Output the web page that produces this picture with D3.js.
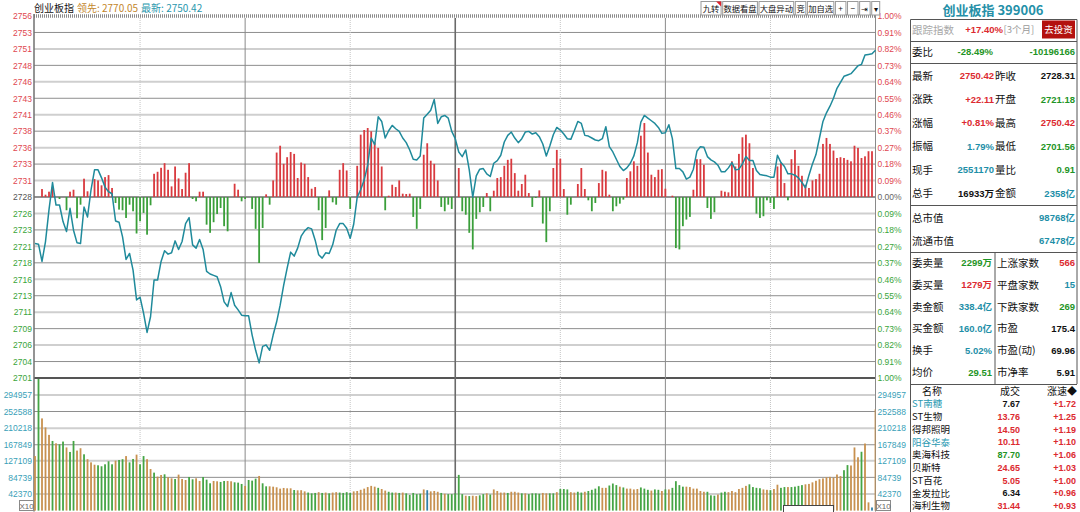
<!DOCTYPE html>
<html>
<head>
<meta charset="utf-8">
<script src="https://cdn.jsdelivr.net/npm/d3@7"></script>
<style>
  body { margin: 0; background: #fff; }
  #chart svg { display: block; }
</style>
</head>
<body>
<div id="chart"></div>
<script>
// ---- data ----
const prevClose = 2728.31;
const limitPct = 1.00;

// one price per minute, 09:30 .. 15:00 (241 points)
const priceSeries = [
  2721.3, 2721.2, 2718.6, 2721.6, 2726.4, 2730.5, 2727.1, 2727.1, 2724.6, 2723.1,
  2726.6, 2723.3, 2721.4, 2721.3, 2726.8, 2725.3, 2729.4, 2732.4, 2732.4, 2731.2,
  2729.8, 2729.1, 2728.8, 2724.7, 2724.5, 2722.3, 2718.9, 2719.8, 2717.3, 2712.8,
  2713.2, 2710.8, 2707.9, 2710.3, 2715.8, 2715.8, 2718.6, 2720.2, 2719.7, 2719.9,
  2721.7, 2720.4, 2721.6, 2724.3, 2725.2, 2721.1, 2720.6, 2721.9, 2720.4, 2717.1,
  2716.7, 2716.5, 2716.3, 2714.8, 2712.5, 2711.8, 2713.9, 2712.0, 2711.3, 2710.5,
  2710.4, 2710.4, 2707.5, 2705.2, 2703.3, 2705.8, 2706.0, 2705.2, 2707.5, 2709.5,
  2712.0, 2715.0, 2717.6, 2720.0, 2719.4, 2720.6, 2722.4, 2723.2, 2723.7, 2723.5,
  2721.8, 2719.6, 2719.1, 2719.9, 2719.8, 2721.1, 2723.3, 2724.3, 2724.3, 2723.6,
  2722.1, 2724.2, 2728.3, 2729.4, 2730.9, 2733.1, 2737.2, 2736.2, 2740.4, 2739.7,
  2737.2, 2738.3, 2739.1, 2738.6, 2738.2, 2737.2, 2736.5, 2735.4, 2734.0, 2733.9,
  2734.5, 2740.2, 2740.8, 2741.4, 2743.0, 2739.4, 2740.4, 2740.6, 2740.2, 2738.2,
  2737.1, 2735.1, 2734.4, 2735.4, 2732.4, 2728.3, 2731.5, 2732.5, 2732.6, 2731.8,
  2731.4, 2733.4, 2733.8, 2734.6, 2736.6, 2737.6, 2738.1, 2737.2, 2736.5, 2737.1,
  2738.1, 2738.2, 2737.8, 2738.0, 2737.4, 2736.3, 2734.5, 2736.0, 2737.7, 2738.8,
  2738.4, 2737.8, 2737.1, 2737.0, 2738.3, 2739.7, 2739.4, 2737.6, 2737.5, 2737.2,
  2736.9, 2736.8, 2737.1, 2738.9, 2735.9, 2735.1, 2734.0, 2732.9, 2732.3, 2732.7,
  2733.4, 2734.5, 2736.5, 2739.6, 2740.6, 2740.2, 2739.8, 2739.4, 2738.8, 2737.9,
  2738.0, 2739.2, 2737.1, 2732.6, 2732.6, 2732.1, 2731.0, 2731.3, 2732.5, 2735.2,
  2735.9, 2735.8, 2734.4, 2733.9, 2733.6, 2733.1, 2732.1, 2732.1, 2732.7, 2733.5,
  2732.4, 2732.5, 2733.3, 2734.4, 2733.8, 2733.8, 2732.3, 2731.7, 2731.6, 2731.5,
  2731.3, 2731.3, 2734.6, 2733.5, 2732.9, 2731.8, 2731.8, 2731.6, 2731.2, 2730.5,
  2729.7, 2731.6, 2733.3, 2734.7, 2737.2, 2739.7, 2741.0, 2742.0, 2743.2, 2744.7,
  2745.6, 2746.5, 2746.7, 2746.9, 2747.5, 2748.1, 2748.3, 2749.7, 2749.8, 2749.9,
  2750.42
];

// red / green strength bars, in index points above / below the previous close
const strengthSeries = [
  0, 0, 1.2, 0.35, 0.8, 1.46, 0, -0.3, 0, -2.0,
  0.8, 1.1, -3.2, -1.16, 2.76, 0.86, 0, 2.7, 2.5, 1.76,
  3.0, 3.3, 1.36, -0.9, -1.9, -2.0, -3.16, -1.16, -2.15, -5.5,
  -3.66, -2.4, -5.68, -1.25, 3.5, 3.8, 4.4, 5.1, 4.1, 1.6,
  4.6, 2.8, 1.2, 3.66, 5.1, -0.3, -0.65, 0.8, 0.8, -4.17,
  -5.4, -3.8, -2.56, -1.66, -4.4, -5.17, 0, 2.0, 1.1, -0.65,
  -0.3, 0, -1.8, -4.8, -9.95, -4.67, 0.4, -1.16, 2.5, 6.7,
  7.73, 5.0, 6.0, 6.78, 6.5, 2.86, 5.2, 5.0, 3.0, 1.25,
  1.5, -2.0, -6.5, -4.67, 1.0, -0.8, -1.16, 4.1, 5.1, 4.0,
  -1.8, 0, 4.7, 9.4, 10.1, 10.4, 9.9, 8.2, 7.4, 4.6,
  -2.0, 0.2, 1.85, 1.5, 2.5, 0.5, 0.45, 0.5, -3.0, -4.8,
  -1.8, 6.37, 8.1, 5.47, 5.0, 2.5, -1.5, -2.15, -1.16, -1.8,
  0, 4.37, -2.15, -2.67, -5.4, -7.9, -3.3, -2.3, -1.5, 0.6,
  -2.15, 0.95, 2.86, 3.0, 4.7, 5.6, 5.77, 3.6, 0.95, 1.96,
  3.36, 0.6, -1.5, -0.15, 1.0, -4.0, -6.8, -2.15, 4.37, 7.1,
  5.77, 1.2, -2.67, -1.16, 0, 1.96, 4.37, 1.2, -0.5, -2.15,
  -0.9, 2.1, 4.1, 3.87, 0.35, -2.15, -1.4, -1.0, -0.4, 2.86,
  3.87, 5.38, 4.7, 9.24, 11.15, 6.7, 3.36, 3.0, 4.1, 4.2,
  1.25, 0, 0.2, -7.7, -7.9, -4.4, -3.4, -3.0, 1.1, 5.7,
  5.7, 4.87, -1.66, -3.3, -2.3, 0, 0.95, 0.8, 0.7, 5.38,
  4.6, 6.5, 9.0, 9.4, 8.1, 4.37, -2.5, -3.16, -2.9, -0.5,
  -0.9, -1.8, 4.6, 5.1, 2.1, -0.5, 5.7, 7.1, 4.7, 3.2,
  1.85, 1.36, 2.5, 2.7, 3.5, 8.0, 8.9, 8.0, 7.0, 5.88,
  6.0, 5.88, 5.6, 5.38, 7.73, 7.4, 5.88, 6.13, 6.9, 6.9,
  0
];

// minute volume (axis units, X10)
const volumeSeries = [
  139000, 345000, 235000, 212000, 193000, 177500, 171500, 169000, 176000, 161000,
  149500, 177500, 153000, 159000, 143500, 131000, 123000, 117000, 115500, 113000,
  118000, 125700, 118000, 127400, 129000, 131000, 139000, 123000, 131600, 142700,
  118000, 139000, 131000, 106000, 96800, 86600, 90800, 92500, 84900, 82300,
  80600, 91700, 80600, 78000, 85700, 79800, 82300, 75500, 85700, 78900,
  69600, 75500, 74700, 73000, 75500, 75500, 74700, 72100, 71300, 67900,
  62800, 78000, 76400, 81500, 88300, 69600, 61900, 61900, 61000, 59400,
  56000, 57700, 56800, 56800, 52500, 51700, 52000, 49000, 46000, 44000,
  45000, 47000, 45000, 46000, 44000, 46000, 47000, 46000, 45000, 47000,
  45000, 49000, 50000, 53000, 56000, 60000, 63000, 61000, 58000, 55000,
  51000, 48000, 46000, 46000, 45000, 46000, 44000, 40000, 45000, 42000,
  43000, 54000, 52000, 49000, 50000, 48000, 45000, 43000, 42000, 42000,
  44000, 91000, 42000, 38000, 37000, 38000, 37000, 39000, 42000, 44000,
  41000, 54000, 50000, 46000, 46000, 45000, 48000, 48000, 46000, 44000,
  44000, 42000, 44000, 44000, 43000, 45000, 44000, 44000, 44000, 47000,
  55000, 55000, 54000, 47000, 46000, 48000, 46000, 48000, 50000, 53000,
  56000, 62000, 58000, 58000, 64000, 69000, 65000, 61000, 59000, 56000,
  56000, 54000, 55000, 59000, 56000, 53000, 51000, 54000, 53000, 50000,
  54000, 54000, 58000, 75000, 65000, 61000, 61000, 60000, 56000, 56000,
  50000, 48000, 48000, 39000, 38000, 41000, 46000, 48000, 47000, 50000,
  47000, 55000, 58000, 63000, 67000, 60000, 58000, 57000, 54000, 53000,
  52000, 55000, 66000, 58000, 60000, 60000, 60000, 61000, 63000, 65000,
  67000, 68000, 72000, 76000, 80000, 82000, 85000, 86000, 84000, 92000,
  88000, 103000, 116000, 115000, 161000, 136000, 150000, 171000, 21000, 8000,
  258000
];
// u = up minute (tan), d = down minute (green), e = unchanged (blue)
const volumeColorCodes = [
  "uduuududdu", "dduuduuudd", "dddudduddu", "dduuduuduu", "duuudduudd",
  "duudduuddd", "udddudduuu", "uuuuduuudd", "dududuuddd", "duuuuuuudu",
  "uddududddd", "dueuuududd", "ddduduuddu", "duuuuduuud", "udddduuddu",
  "ddduuddudd", "dduudddudu", "uuuddduddu", "dudddduuuu", "uudddudduu",
  "uuuudddduu", "duuddudddd", "uuuuuuuuuu", "udduuuduue", "u"
].join("").split("");

const priceTickLabels = ["2756", "2753", "2751", "2748", "2746", "2743", "2741", "2738", "2736", "2733", "2731",
  "2728", "2726", "2723", "2721", "2718", "2716", "2713", "2711", "2709", "2706", "2704", "2701"];
const pctTickLabels = ["1.00%", "0.91%", "0.82%", "0.73%", "0.64%", "0.55%", "0.46%", "0.37%", "0.27%", "0.18%", "0.09%",
  "0.00%", "0.09%", "0.18%", "0.27%", "0.37%", "0.46%", "0.55%", "0.64%", "0.73%", "0.82%", "0.91%", "1.00%"];
const volumeTickValues = [294957, 252588, 210218, 167849, 127109, 84739, 42370];
const volumeMax = 338000;
const dottedMinutes = [30, 90, 150, 210];
const solidMinutes = [60, 180];
const middayMinute = 120;

const headerName = "创业板指";
const headerLead = "领先: 2770.05";
const headerLast = "最新: 2750.42";
const toolbarLabels = ["九转", "数据看盘", "大盘异动", "竞", "加自选", "+", "−", "⇥", "▾"];

const panelTitle = "创业板指 399006";
const trackRow = ["跟踪指数", "+17.40%", "[3个月]", "去投资"];
const bidRatioRow = ["委比", "-28.49%", "-10196166"];
const quoteRows = [
  ["最新", "2750.42", "up", "昨收", "2728.31", "flat"],
  ["涨跌", "+22.11", "up", "开盘", "2721.18", "down"],
  ["涨幅", "+0.81%", "up", "最高", "2750.42", "up"],
  ["振幅", "1.79%", "teal", "最低", "2701.56", "down"],
  ["现手", "2551170", "teal", "量比", "0.91", "down"],
  ["总手", "16933万", "flat", "金额", "2358亿", "teal"]
];
const capRows = [["总市值", "98768亿"], ["流通市值", "67478亿"]];
const orderRows = [
  ["委卖量", "2299万", "down", "上涨家数", "566", "up"],
  ["委买量", "1279万", "up", "平盘家数", "15", "teal"],
  ["卖金额", "338.4亿", "teal", "下跌家数", "269", "down"],
  ["买金额", "160.0亿", "teal", "市盈", "175.4", "flat"],
  ["换手", "5.02%", "teal", "市盈(动)", "69.96", "flat"],
  ["均价", "29.51", "down", "市净率", "5.91", "flat"]
];
const listHeader = ["名称", "成交", "涨速◆"];
const stockNames = ["ST南糖", "ST生物", "得邦照明", "阳谷华泰", "奥海科技", "贝斯特", "ST百花", "金发拉比", "海利生物"];
const stockNameTone = ["teal", "flat", "flat", "teal", "flat", "flat", "flat", "flat", "flat"];
const stockPrices = ["7.67", "13.76", "14.50", "10.11", "87.70", "24.65", "5.05", "6.34", "31.44"];
const stockPriceTone = ["flat", "up", "up", "up", "down", "up", "up", "flat", "up"];
const stockSpeeds = ["+1.72", "+1.25", "+1.19", "+1.10", "+1.06", "+1.03", "+1.00", "+0.96", "+0.93"];

document.addEventListener('DOMContentLoaded', function() {
    var width = 1080, height = 512;
    var plot = {left: 34, right: 875.5, top: 16, mid: 378, bottom: 510.6};
    var latin = "'Liberation Sans', Arial, 'Noto Sans CJK SC', sans-serif";
    var cjk = "'Noto Sans CJK SC', sans-serif";
    var tone = {up: "#dc2a30", down: "#1f9526", teal: "#1e8fa8", flat: "#111", gray: "#a8a8a8"};

    var svg = d3.select("#chart").append("svg")
        .attr("width", width)
        .attr("height", height);
    svg.append("rect").attr("width", width).attr("height", height).attr("fill", "#fff");

    var x = d3.scaleLinear().domain([0, 240]).range([35, plot.right]);
    var span = prevClose * limitPct / 100;
    var y = d3.scaleLinear().domain([prevClose - span, prevClose + span]).range([plot.mid, plot.top]);
    var yVol = d3.scaleLinear().domain([0, volumeMax]).range([plot.bottom, plot.mid]);
    var priceTickValues = d3.range(priceTickLabels.length).map(function(i) {
        return prevClose + span * (11 - i) / 11;
    });

    // horizontal grid
    var grid = svg.append("g");
    priceTickValues.forEach(function(v, i) {
        if (i === 0) return;
        var dark = i % 2 === 1;
        grid.append("line")
            .attr("x1", plot.left).attr("x2", plot.right)
            .attr("y1", y(v)).attr("y2", y(v))
            .attr("stroke", i === 11 ? "#6c6c6c" : (i === 22 ? "#555" : (dark ? "#8e8e8e" : "#cfcfcf")))
            .attr("stroke-width", dark ? (i === 11 || i === 22 ? 1.5 : 1) : 2);
    });
    volumeTickValues.forEach(function(v, i) {
        var dark = i % 2 === 1;
        grid.append("line")
            .attr("x1", plot.left).attr("x2", plot.right)
            .attr("y1", yVol(v)).attr("y2", yVol(v))
            .attr("stroke", dark ? "#8e8e8e" : "#cfcfcf")
            .attr("stroke-width", dark ? 1 : 2);
    });
    grid.append("line")
        .attr("x1", plot.left).attr("x2", plot.right)
        .attr("y1", plot.top).attr("y2", plot.top)
        .attr("stroke", "#8a8a8a").attr("stroke-width", 3.5)
        .attr("stroke-dasharray", "1 1");

    // vertical grid
    dottedMinutes.forEach(function(m) {
        grid.append("line")
            .attr("x1", x(m)).attr("x2", x(m)).attr("y1", 18).attr("y2", plot.bottom)
            .attr("stroke", "#c4c4c4").attr("stroke-dasharray", "1 1");
    });
    solidMinutes.forEach(function(m) {
        grid.append("line")
            .attr("x1", x(m)).attr("x2", x(m)).attr("y1", 18).attr("y2", plot.bottom)
            .attr("stroke", "#8a8a8a");
    });
    grid.append("line")
        .attr("x1", x(middayMinute)).attr("x2", x(middayMinute)).attr("y1", 18).attr("y2", plot.bottom)
        .attr("stroke", "#6a6a6a").attr("stroke-width", 1.6);
    grid.append("line")
        .attr("x1", plot.left).attr("x2", plot.left).attr("y1", 14).attr("y2", plot.bottom + 1)
        .attr("stroke", "#707070").attr("stroke-width", 1.5);
    grid.append("line")
        .attr("x1", plot.right).attr("x2", plot.right).attr("y1", 14).attr("y2", plot.bottom + 1)
        .attr("stroke", "#8a8a8a");

    // strength bars
    var strength = strengthSeries.map(function(v, i) { return {m: i, v: v}; })
        .filter(function(d) { return d.v !== 0; });
    svg.append("g").selectAll("rect")
        .data(strength)
        .enter()
        .append("rect")
            .attr("x", function(d) { return x(d.m) - 0.9; })
            .attr("width", 1.8)
            .attr("y", function(d) { return y(prevClose + Math.max(d.v, 0)); })
            .attr("height", function(d) { return Math.abs(y(prevClose + d.v) - y(prevClose)); })
            .attr("fill", function(d) { return d.v > 0 ? "#d93a3f" : "#3a9f3a"; });

    // price line
    var line = d3.line()
        .x(function(d, i) { return x(i); })
        .y(function(d) { return y(d); });
    svg.append("path")
        .datum(priceSeries)
        .attr("d", line)
        .attr("fill", "none")
        .attr("stroke", "#1f8a9b")
        .attr("stroke-width", 1.5)
        .attr("stroke-linejoin", "round");

    // volume bars
    svg.append("clipPath").attr("id", "volclip")
        .append("rect").attr("x", plot.left).attr("y", plot.mid + 1)
        .attr("width", plot.right - plot.left).attr("height", plot.bottom - plot.mid);
    var volColor = {u: "#c8914f", d: "#45a545", e: "#2f7fa8"};
    svg.append("g").attr("clip-path", "url(#volclip)")
        .selectAll("rect")
        .data(volumeSeries)
        .enter()
        .append("rect")
            .attr("x", function(d, i) { return x(i) - 0.9; })
            .attr("width", 1.8)
            .attr("y", function(d) { return yVol(d); })
            .attr("height", function(d) { return plot.bottom - yVol(d); })
            .attr("fill", function(d, i) { return volColor[volumeColorCodes[i]]; });

    // axes
    function styleAxis(g) {
        g.select(".domain").remove();
        g.attr("font-size", 8.5).attr("font-family", latin);
    }
    var upText = "#e0474f", downText = "#3aa53a";
    var leftAxis = svg.append("g")
        .attr("transform", "translate(" + plot.left + ",0)")
        .call(d3.axisLeft(y).tickValues(priceTickValues).tickSize(0).tickPadding(2)
            .tickFormat(function(d, i) { return priceTickLabels[i]; }));
    styleAxis(leftAxis);
    leftAxis.selectAll("text").attr("fill", function(d, i) {
        return i < 11 ? upText : (i === 11 ? "#555" : downText);
    });
    var rightAxis = svg.append("g")
        .attr("transform", "translate(" + plot.right + ",0)")
        .call(d3.axisRight(y).tickValues(priceTickValues).tickSize(0).tickPadding(2)
            .tickFormat(function(d, i) { return pctTickLabels[i]; }));
    styleAxis(rightAxis);
    rightAxis.selectAll("text").attr("fill", function(d, i) {
        return i < 11 ? upText : (i === 11 ? "#666" : downText);
    });
    var volLeft = svg.append("g")
        .attr("transform", "translate(" + plot.left + ",0)")
        .call(d3.axisLeft(yVol).tickValues(volumeTickValues).tickSize(0).tickPadding(2)
            .tickFormat(d3.format("d")));
    styleAxis(volLeft);
    volLeft.selectAll("text").attr("fill", "#3a9fb8");
    var volRight = svg.append("g")
        .attr("transform", "translate(" + plot.right + ",0)")
        .call(d3.axisRight(yVol).tickValues(volumeTickValues).tickSize(0).tickPadding(2)
            .tickFormat(d3.format("d")));
    styleAxis(volRight);
    volRight.selectAll("text").attr("fill", "#3a9fb8");

    [plot.left - 14.5, plot.right + 1].forEach(function(bx) {
        svg.append("rect").attr("x", bx).attr("y", 500.5).attr("width", 14).attr("height", 10)
            .attr("fill", "#fff").attr("stroke", "#8a8a8a");
        svg.append("text").attr("x", bx + 7).attr("y", 508.5).attr("text-anchor", "middle")
            .attr("font-size", 8).attr("font-family", latin).attr("fill", "#666").text("X10");
    });
    svg.append("rect").attr("x", 783.5).attr("y", 505.5).attr("width", 50).attr("height", 8)
        .attr("fill", "#fff").attr("stroke", "#444");

    // header line
    var head = svg.append("text").attr("x", plot.left).attr("y", 12)
        .attr("font-size", 10).attr("font-family", cjk);
    head.append("tspan").attr("fill", "#111").text(headerName);
    head.append("tspan").attr("dx", 3).attr("fill", "#c3862c").text(headerLead);
    head.append("tspan").attr("dx", 3).attr("fill", "#2a98ae").text(headerLast);

    // toolbar
    var bx = 701;
    toolbarLabels.forEach(function(lbl, i) {
        var g = svg.append("g");
        var t = g.append("text").attr("y", 11.5).attr("font-size", 8.3).attr("font-family", cjk)
            .attr("fill", "#111").attr("text-anchor", "middle").text(lbl);
        var w = Math.max(t.node().getComputedTextLength() + 1.5, i === toolbarLabels.length - 1 ? 8 : 10.5);
        if (i === 0) w += 2;
        g.insert("rect", "text").attr("x", bx).attr("y", 1.5).attr("width", w).attr("height", 13.5)
            .attr("fill", "#fff").attr("stroke", "#9a9a9a");
        t.attr("x", bx + w / 2);
        if (i === 0) {
            g.append("path").attr("d", "M" + (bx + w - 5) + ",1.5 L" + (bx + w) + ",1.5 L" + (bx + w) + ",6.5 Z")
                .attr("fill", "#e0202a");
        }
        bx += w + 1.6;
    });

    // ---- right quote panel ----
    var panel = svg.append("g");
    function txt(s, px, py, opt) {
        opt = opt || {};
        return panel.append("text").attr("x", px).attr("y", py).attr("dy", "0.36em")
            .attr("text-anchor", opt.anchor || "start")
            .attr("font-size", opt.size || 10.5)
            .attr("font-weight", opt.bold ? 700 : 400)
            .attr("font-family", opt.latin ? latin : cjk)
            .attr("fill", opt.fill || "#111")
            .text(s);
    }
    function hline(y0, x0, x1) {
        panel.append("line").attr("x1", x0 || 910.5).attr("x2", x1 || 1077).attr("y1", y0).attr("y2", y0)
            .attr("stroke", "#555");
    }
    function vline(x0, y0, y1) {
        panel.append("line").attr("x1", x0).attr("x2", x0).attr("y1", y0).attr("y2", y1)
            .attr("stroke", "#555");
    }

    txt(panelTitle, 993, 10.5, {anchor: "middle", size: 13, bold: true, fill: "#2590a8"});
    hline(19.5);
    vline(910.5, 19.5, height);
    vline(1077, 19.5, 384);

    txt(trackRow[0], 912, 30, {fill: tone.gray});
    txt(trackRow[1], 1003, 30, {anchor: "end", size: 9.5, bold: true, latin: true, fill: tone.up});
    txt(trackRow[2], 1003.5, 30, {size: 9.5, fill: "#9a9a9a"});
    panel.append("rect").attr("x", 1042).attr("y", 20.5).attr("width", 33).attr("height", 18)
        .attr("fill", "#b3110f");
    txt(trackRow[3], 1058.5, 29.5, {anchor: "middle", size: 9.5, fill: "#fff"});
    hline(41.5);

    txt(bidRatioRow[0], 912, 52);
    txt(bidRatioRow[1], 993, 52, {anchor: "end", size: 9.5, bold: true, latin: true, fill: tone.down});
    txt(bidRatioRow[2], 1075, 52, {anchor: "end", size: 9.5, bold: true, latin: true, fill: tone.down});
    hline(63.5);

    quoteRows.forEach(function(r, i) {
        var ry = 76 + i * 23.5;
        txt(r[0], 912, ry);
        txt(r[1], 994, ry, {anchor: "end", size: 9.5, bold: true, latin: true, fill: tone[r[2]]});
        txt(r[3], 995, ry);
        txt(r[4], 1075, ry, {anchor: "end", size: 9.5, bold: true, latin: true, fill: tone[r[5]]});
    });
    hline(205.5);
    capRows.forEach(function(r, i) {
        var ry = 218 + i * 23;
        txt(r[0], 912, ry);
        txt(r[1], 1075, ry, {anchor: "end", size: 9.5, bold: true, latin: true, fill: tone.teal});
    });
    hline(252.5);
    vline(995, 252.5, 384);
    orderRows.forEach(function(r, i) {
        var ry = 263 + i * 21.9;
        txt(r[0], 912, ry);
        txt(r[1], 992, ry, {anchor: "end", size: 9.5, bold: true, latin: true, fill: tone[r[2]]});
        txt(r[3], 997, ry);
        txt(r[4], 1075, ry, {anchor: "end", size: 9.5, bold: true, latin: true, fill: tone[r[5]]});
    });
    hline(384.5);

    txt(listHeader[0], 932, 391, {anchor: "middle", size: 10});
    txt(listHeader[1], 1010, 391, {anchor: "middle", size: 10});
    txt(listHeader[2], 1077, 391, {anchor: "end", size: 10});
    stockNames.forEach(function(name, i) {
        var ry = 404 + i * 12.75;
        txt(name, 912, ry, {size: 9.5, fill: stockNameTone[i] === "teal" ? "#2a9ab2" : "#111"});
        txt(stockPrices[i], 1020, ry, {anchor: "end", size: 9, bold: true, latin: true, fill: tone[stockPriceTone[i]]});
        txt(stockSpeeds[i], 1076, ry, {anchor: "end", size: 9, bold: true, latin: true, fill: tone.up});
    });
});
</script>
</body>
</html>
